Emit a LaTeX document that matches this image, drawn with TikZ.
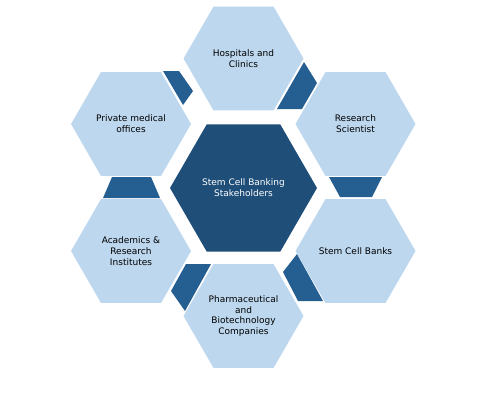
\documentclass[tikz,border=0pt]{standalone}
\usepackage{fontspec}
\setmainfont{DejaVu Sans}
\usetikzlibrary{shapes.geometric}
\definecolor{hubblue}{HTML}{1F4E79}
\definecolor{linkblue}{HTML}{255E91}
\definecolor{hexblue}{HTML}{BDD7EE}
\begin{document}
\begin{tikzpicture}[x=1pt,y=-1pt,
    hexcell/.style={regular polygon, regular polygon sides=6, minimum size=120pt,
        inner sep=0pt, outer sep=0pt, fill=hexblue, align=center,
        font=\fontsize{9}{10.8}\selectfont},
    hubcell/.style={hexcell, minimum size=147pt, fill=hubblue, text=white},
    linkpiece/.style={fill=linkblue}]
    \useasboundingbox (0,0) rectangle (498,410);

    % Piezas de enlace
    \fill[linkpiece] (304,62) -- (317,83) -- (302,109) -- (277,109) -- cycle;
    \fill[linkpiece] (329,177) -- (382,177) -- (372,197) -- (340,197) -- cycle;
    \fill[linkpiece] (297,254) -- (323,301) -- (298,301) -- (283,272) -- cycle;
    \fill[linkpiece] (186,264) -- (211,264) -- (185,311) -- (171,291) -- cycle;
    \fill[linkpiece] (112,177) -- (151,177) -- (160,198) -- (103,198) -- cycle;
    \fill[linkpiece] (163,71) -- (179,71) -- (193,91) -- (183,105) -- cycle;

    % Hexagono central
    \node[hubcell] (hub) at (243.5,188) {Stem Cell Banking\\Stakeholders};

    % Hexagonos exteriores
    \node[hexcell] (hospitals) at (243.5,58.5) {Hospitals and\\Clinics};
    \node[hexcell] (research) at (355.5,124) {Research\\Scientist};
    \node[hexcell] (banks) at (355.5,251) {Stem Cell Banks};
    \node[hexcell] (pharma) at (243.5,316) {Pharmaceutical\\and\\Biotechnology\\Companies};
    \node[hexcell] (academics) at (131,251) {Academics \&\\Research\\Institutes};
    \node[hexcell] (private) at (131,124) {Private medical\\offices};
\end{tikzpicture}
\end{document}
